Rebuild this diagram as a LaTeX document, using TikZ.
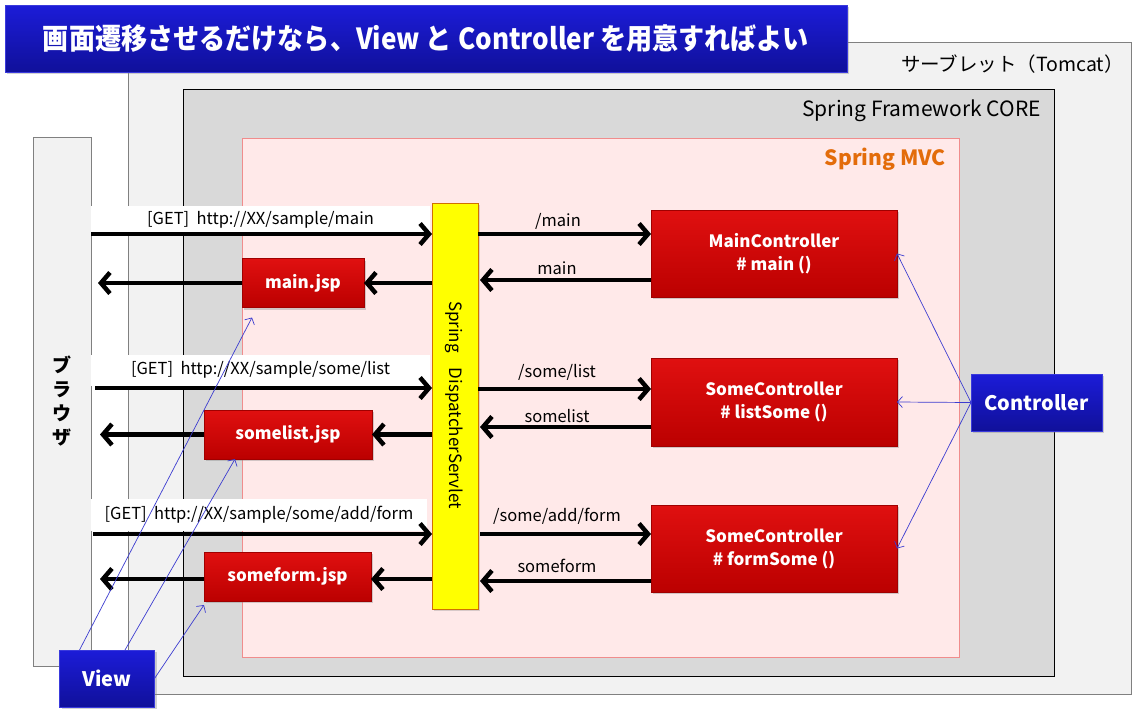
\documentclass[tikz,border=0pt]{standalone}
\usepackage{fontspec}
\setmainfont{Noto Sans CJK JP}
\usetikzlibrary{arrows.meta,calc,shadows}
\definecolor{frameA}{HTML}{F2F2F2}
\definecolor{frameB}{HTML}{D9D9D9}
\definecolor{mvcfill}{HTML}{FFE9E9}
\definecolor{mvcdraw}{HTML}{F08C8C}
\definecolor{mvctext}{HTML}{E36C0A}
\definecolor{blueTop}{HTML}{1C1CD8}
\definecolor{blueBot}{HTML}{10109A}
\definecolor{blueLine}{HTML}{3A3ADC}
\definecolor{redTop}{HTML}{E01010}
\definecolor{redBot}{HTML}{BB0000}
\definecolor{redLine}{HTML}{A00000}
\definecolor{dispfill}{HTML}{FFFF00}
\definecolor{dispdraw}{HTML}{D07000}
\definecolor{thinblue}{HTML}{3C3CD0}
\begin{document}
\begin{tikzpicture}[x=1pt,y=-1pt,
  frame/.style={rectangle,inner sep=0pt,outer sep=0pt},
  redbox/.style={rectangle,inner sep=0pt,outer sep=0pt,top color=redTop,bottom color=redBot,
    draw=redLine,line width=0.6pt,drop shadow={shadow xshift=2pt,shadow yshift=-2pt,opacity=0.35},
    text=white,font=\bfseries\fontsize{17}{23}\selectfont,align=center},
  bluebox/.style={rectangle,inner sep=0pt,outer sep=0pt,top color=blueTop,bottom color=blueBot,
    draw=blueLine,line width=0.8pt,drop shadow={shadow xshift=2pt,shadow yshift=-2pt,opacity=0.35},
    text=white,font=\bfseries\fontsize{20}{24}\selectfont},
  band/.style={rectangle,fill=white,inner sep=0pt,outer sep=0pt,font=\fontsize{16.5}{18}\selectfont},
  lbl/.style={inner sep=0pt,font=\fontsize{16.5}{18}\selectfont},
  framelbl/.style={inner sep=0pt,anchor=east,font=\fontsize{21}{24}\selectfont},
  bigarrow/.style={line width=4.5pt,-{Straight Barb[length=9pt,width=21pt]}},
  thinarrow/.style={draw=thinblue,line width=0.7pt,-{Straight Barb[length=5pt,width=11pt]}}
]
\useasboundingbox (0,0) rectangle (1135,713);
\fill[white] (0,0) rectangle (1135,713);

% frames
\node[frame,fill=frameA,draw=gray,line width=0.8pt,minimum width=1003pt,minimum height=652pt] (servlet) at (629.5,368) {};
\node[frame,fill=frameB,draw=black,line width=0.8pt,minimum width=871pt,minimum height=587pt] (core) at (618.5,382.5) {};
\node[frame,fill=mvcfill,draw=mvcdraw,line width=0.8pt,minimum width=717pt,minimum height=519pt] (mvc) at (600.5,397.5) {};
\node[frame,fill=frameA,draw=gray,line width=0.8pt,minimum width=58pt,minimum height=529pt] (browser) at (62,401.5) {};

\node[framelbl,font=\fontsize{19.5}{24}\selectfont] (servletlbl) at (1124,64) {サーブレット（Tomcat）};
\node[framelbl] (corelbl) at (1041,111) {Spring Framework CORE};
\node[framelbl,text=mvctext,font=\bfseries\fontsize{21}{24}\selectfont] (mvclbl) at (946,159) {Spring MVC};

\node[inner sep=0pt,align=center,font=\bfseries\fontsize{19}{24}\selectfont] (browserlbl) at (62,401) {ブ\\ラ\\ウ\\ザ};

% white label bands
\node[band,minimum width=339pt,minimum height=27pt] (band1) at (260.5,219.5) {[GET]\ \ http://XX/sample/main};
\node[band,minimum width=339pt,minimum height=31pt] (band2) at (260.5,370) {[GET]\ \ http://XX/sample/some/list};
\node[band,minimum width=336pt,minimum height=32pt] (band3) at (259,515) {[GET]\ \ http://XX/sample/some/add/form};

% dispatcher
\node[frame,fill=dispfill,draw=dispdraw,line width=0.8pt,minimum width=46pt,minimum height=406pt,
  drop shadow={shadow xshift=2pt,shadow yshift=-2pt,opacity=0.3}] (disp) at (455,406) {};
\node[inner sep=0pt,rotate=-90,font=\fontsize{17}{20}\selectfont] (disptext) at (454,405) {Spring\hspace{15pt}DispatcherServlet};

% jsp boxes
\node[redbox,minimum width=122pt,minimum height=49pt] (mainjsp) at (303,283) {main.jsp};
\node[redbox,minimum width=168pt,minimum height=49pt] (listjsp) at (288,434.5) {somelist.jsp};
\node[redbox,minimum width=167pt,minimum height=49pt] (formjsp) at (287.5,576.5) {someform.jsp};

% controllers
\node[redbox,minimum width=246pt,minimum height=87pt] (mainctrl) at (774,253.5) {MainController\\\# main ()};
\node[redbox,minimum width=246pt,minimum height=88pt] (listctrl) at (774,402) {SomeController\\\# listSome ()};
\node[redbox,minimum width=246pt,minimum height=87pt] (formctrl) at (774,548.5) {SomeController\\\# formSome ()};

% blue boxes
\node[bluebox,minimum width=842pt,minimum height=67pt,font=\bfseries\fontsize{29}{32}\selectfont] (title) at (426,38.5) {\scalebox{0.9}[1]{画面遷移させるだけなら、View と Controller を用意すればよい}};
\node[bluebox,minimum width=131pt,minimum height=57pt] (ctrl) at (1036.5,402.5) {Controller};
\node[bluebox,minimum width=95pt,minimum height=57pt] (view) at (107,678.5) {View};

% browser -> dispatcher
\draw[bigarrow] (browser.east |- 0,234) -- (disp.west |- 0,234);
\draw[bigarrow] ([xshift=4pt]browser.east |- 0,388) -- (disp.west |- 0,388);
\draw[bigarrow] ([xshift=2pt]browser.east |- 0,534) -- (disp.west |- 0,534);

% dispatcher -> jsp -> browser
\draw[bigarrow] (disp.west |- mainjsp.east) -- (mainjsp.east);
\draw[bigarrow] (mainjsp.west) -- ([xshift=7pt]browser.east |- mainjsp.west);
\draw[bigarrow] (disp.west |- listjsp.east) -- (listjsp.east);
\draw[bigarrow] (listjsp.west) -- ([xshift=9pt]browser.east |- listjsp.west);
\draw[bigarrow] (disp.west |- 0,579) -- (formjsp.east |- 0,579);
\draw[bigarrow] (formjsp.west |- 0,579) -- ([xshift=9pt]browser.east |- 0,579);

% dispatcher <-> controllers
\draw[bigarrow] (disp.east |- 0,234) -- (mainctrl.west |- 0,234);
\draw[bigarrow] (mainctrl.west |- 0,280) -- ([xshift=2pt]disp.east |- 0,280);
\draw[bigarrow] (disp.east |- 0,389) -- (listctrl.west |- 0,389);
\draw[bigarrow] (listctrl.west |- 0,427) -- ([xshift=2pt]disp.east |- 0,427);
\draw[bigarrow] ([xshift=2pt]disp.east |- 0,534) -- (formctrl.west |- 0,534);
\draw[bigarrow] (formctrl.west |- 0,581) -- ([xshift=2pt]disp.east |- 0,581);

\node[lbl] (l1) at (558,221) {/main};
\node[lbl] (l2) at (557,268) {main};
\node[lbl] (l3) at (557,372) {/some/list};
\node[lbl] (l4) at (557,416) {somelist};
\node[lbl] (l5) at (557,516) {/some/add/form};
\node[lbl] (l6) at (557,566) {someform};

% controller links
\draw[thinarrow] (ctrl.west) -- (mainctrl.east);
\draw[thinarrow] (ctrl.west) -- (listctrl.east);
\draw[thinarrow] (ctrl.west) -- (formctrl.east);

% view links
\draw[thinarrow] ($(view.north west)+(20,0)$) -- ($(mainjsp.south west)+(10,10)$);
\draw[thinarrow] ($(view.north)+(18,0)$) -- ($(listjsp.south west)+(31,0)$);
\draw[thinarrow] (view.east) -- ($(formjsp.south west)+(0,4)$);
\end{tikzpicture}
\end{document}
